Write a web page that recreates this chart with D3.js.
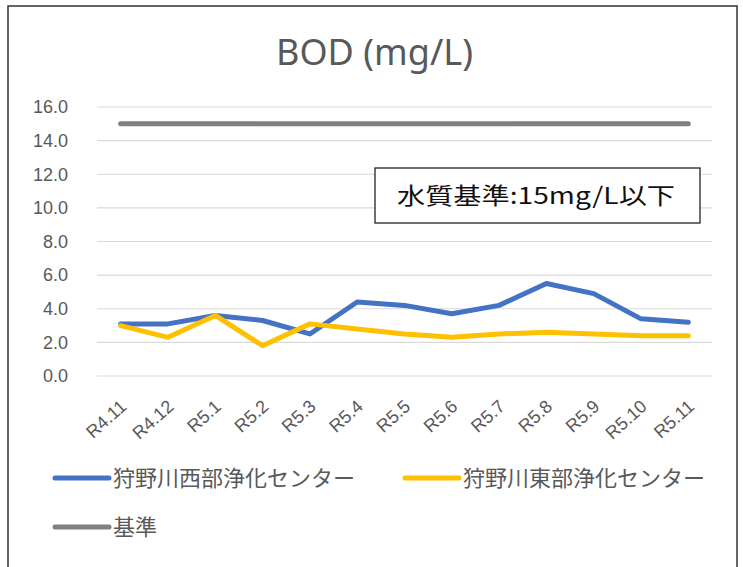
<!DOCTYPE html>
<html>
<head>
<meta charset="utf-8">
<script src="https://cdn.jsdelivr.net/npm/d3@7"></script>
<style>
  body { margin: 0; background: #fff; }
  svg text { font-family: "Noto Sans CJK JP", "Noto Sans", sans-serif; }
</style>
</head>
<body>
<div id="chart"></div>
<script>
// months (Reiwa)
var months = ["R4.11", "R4.12", "R5.1", "R5.2", "R5.3", "R5.4", "R5.5", "R5.6", "R5.7", "R5.8", "R5.9", "R5.10", "R5.11"];
var westValues = [3.1, 3.1, 3.6, 3.3, 2.5, 4.4, 4.2, 3.7, 4.2, 5.5, 4.9, 3.4, 3.2];
var eastValues = [3.0, 2.3, 3.6, 1.8, 3.1, 2.8, 2.5, 2.3, 2.5, 2.6, 2.5, 2.4, 2.4];
var standardValues = [15, 15, 15, 15, 15, 15, 15, 15, 15, 15, 15, 15, 15];
var yTicks = [0, 2, 4, 6, 8, 10, 12, 14, 16];
var seriesNames = ["狩野川西部浄化センター", "狩野川東部浄化センター", "基準"];

var W = 743, H = 567;
var colors = ["#4472C4", "#FFC000", "#808080"];

var svg = d3.select("#chart").append("svg")
    .attr("width", W)
    .attr("height", H);

// outer frame
svg.append("rect")
    .attr("x", 8).attr("y", 6)
    .attr("width", 729).attr("height", 580)
    .attr("fill", "#fff")
    .attr("stroke", "#333")
    .attr("stroke-width", 1.5);

// title
svg.append("text")
    .attr("x", 276).attr("y", 65)
    .attr("fill", "#595959")
    .attr("font-size", 36)
    .attr("textLength", 197)
    .attr("lengthAdjust", "spacingAndGlyphs")
    .style("font-family", "'Noto Sans', sans-serif")
    .text("BOD (mg/L)");

var x = d3.scaleBand().domain(months).range([97, 712]);
var y = d3.scaleLinear().domain([0, 16]).range([376, 107]);

// gridlines
svg.append("g")
    .selectAll("line")
    .data(yTicks)
    .enter()
    .append("line")
    .attr("x1", 97).attr("x2", 712)
    .attr("y1", d => y(d)).attr("y2", d => y(d))
    .attr("stroke", "#d9d9d9")
    .attr("stroke-width", 1.2);

// y axis labels
var yAxis = svg.append("g")
    .attr("transform", "translate(97,0)")
    .call(d3.axisLeft(y).tickValues(yTicks).tickFormat(d3.format(".1f")).tickSize(0).tickPadding(29));
yAxis.select(".domain").remove();
yAxis.selectAll("text")
    .attr("fill", "#595959")
    .attr("font-size", 18)
    .style("font-family", "'Liberation Sans', Arial, sans-serif");

// x axis labels, rotated
var xAxis = svg.append("g")
    .attr("transform", "translate(0,376)")
    .call(d3.axisBottom(x).tickSize(0).tickPadding(0));
xAxis.select(".domain").remove();
xAxis.selectAll("text")
    .attr("fill", "#595959")
    .attr("font-size", 18)
    .style("font-family", "'Liberation Sans', Arial, sans-serif")
    .attr("text-anchor", "end")
    .attr("dy", 0)
    .attr("y", 0)
    .attr("transform", "translate(7,32) rotate(-42)");

var line = d3.line()
    .x((d, i) => x(months[i]) + x.bandwidth() / 2)
    .y(d => y(d));

var allSeries = [westValues, eastValues, standardValues];

svg.append("g")
    .selectAll("path")
    .data(allSeries)
    .enter()
    .append("path")
    .attr("d", d => line(d))
    .attr("fill", "none")
    .attr("stroke", (d, i) => colors[i])
    .attr("stroke-width", 5)
    .attr("stroke-linejoin", "round")
    .attr("stroke-linecap", "round");

// annotation box
svg.append("rect")
    .attr("x", 375).attr("y", 168)
    .attr("width", 325).attr("height", 55)
    .attr("fill", "#fff")
    .attr("stroke", "#222")
    .attr("stroke-width", 1.3);
svg.append("text")
    .attr("x", 397).attr("y", 204)
    .attr("font-size", 23)
    .attr("fill", "#111")
    .attr("textLength", 278)
    .attr("lengthAdjust", "spacingAndGlyphs")
    .text("水質基準:15mg/L以下");

// legend
var legendPos = [[53, 478], [403, 478], [53, 527]];
var legendLen = [242, 242, 44];
var legend = svg.append("g")
    .selectAll("g")
    .data(seriesNames)
    .enter()
    .append("g")
    .attr("transform", (d, i) => "translate(" + legendPos[i][0] + "," + legendPos[i][1] + ")");
legend.append("line")
    .attr("x1", 2).attr("x2", 56)
    .attr("stroke", (d, i) => colors[i])
    .attr("stroke-width", 5)
    .attr("stroke-linecap", "round");
legend.append("text")
    .attr("x", 60).attr("y", 8)
    .attr("font-size", 22)
    .attr("fill", "#595959")
    .attr("textLength", (d, i) => legendLen[i])
    .attr("lengthAdjust", "spacingAndGlyphs")
    .text(d => d);
</script>
</body>
</html>
